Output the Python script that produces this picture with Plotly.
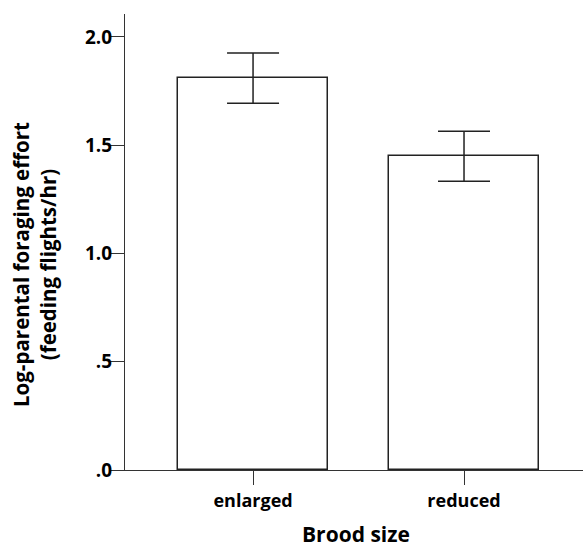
import plotly.graph_objects as go

categories = ["enlarged", "reduced"]
values = [1.81, 1.449]
errors = [0.116, 0.116]
y_tick_vals = [0.0, 0.5, 1.0, 1.5, 2.0]
y_tick_text = [".0", ".5", "1.0", "1.5", "2.0"]

x_pos = list(range(len(categories)))

fig = go.Figure()
fig.add_trace(go.Bar(
    x=x_pos, y=values, width=0.711,
    marker=dict(color="white", line=dict(color="#222222", width=1.5)),
    error_y=dict(type="data", array=errors, visible=True, color="#222222",
                 thickness=1.5, width=26),
    showlegend=False,
))

FONT = "Open Sans"
fig.update_layout(
    width=583, height=548,
    margin=dict(l=125, r=0, t=14, b=78),
    plot_bgcolor="white", paper_bgcolor="white",
    font=dict(family=FONT, color="black"),
    xaxis=dict(range=[-0.607, 1.564], tickvals=x_pos, ticktext=categories,
               showline=True, linecolor="#333333", linewidth=1.2,
               ticks="outside", ticklen=14, tickcolor="#333333", tickwidth=1.2,
               showgrid=False, zeroline=False,
               tickfont=dict(family=FONT, size=18, weight="bold", color="black")),
    yaxis=dict(range=[0, 2.106], tickvals=y_tick_vals, ticktext=y_tick_text,
               showline=True, linecolor="#333333", linewidth=1.2,
               ticks="outside", ticklen=15, tickcolor="#333333", tickwidth=1.2,
               ticklabelstandoff=-7,
               showgrid=False, zeroline=False,
               tickfont=dict(family=FONT, size=19, weight="bold", color="black")),
    bargap=0,
)

fig.add_annotation(
    text="Log-parental foraging effort<br>(feeding flights/hr)",
    xref="paper", yref="paper", x=-0.1965, y=0.4496,
    xanchor="center", yanchor="middle", textangle=-90, showarrow=False,
    font=dict(family=FONT, size=20.5, weight="bold", color="black"),
)
fig.add_annotation(
    text="Brood size",
    xref="paper", yref="paper", x=0.504, y=-0.141,
    xanchor="center", yanchor="middle", showarrow=False,
    font=dict(family=FONT, size=21, weight="bold", color="black"),
)

fig.write_html("out.html")
